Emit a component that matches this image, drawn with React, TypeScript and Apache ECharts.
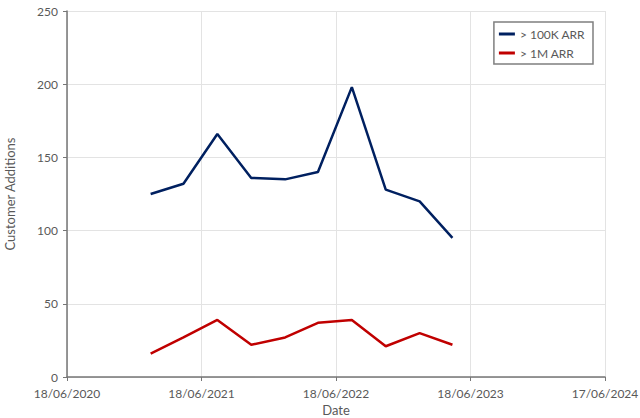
import React, { useEffect, useRef } from "react";
import * as echarts from "echarts";

const quarterEnds = [
  "2021-01-31", "2021-04-30", "2021-07-31", "2021-10-31", "2022-01-31",
  "2022-04-30", "2022-07-31", "2022-10-31", "2023-01-31", "2023-04-30",
];
const over100K = [125, 132, 166, 136, 135, 140, 198, 128, 120, 95];
const over1M = [16, 27, 39, 22, 27, 37, 39, 21, 30, 22];
const seriesNames = ["> 100K ARR", "> 1M ARR"];
const axisStart = "2020-06-18";
const axisDays = 1460;
const tickDays = 365;

const DAY = 86400000;
const toUTC = (s: string) => {
  const [y, m, d] = s.split("-").map(Number);
  return Date.UTC(y, m - 1, d);
};
const base = toUTC(axisStart);
const toDays = (s: string) => Math.round((toUTC(s) - base) / DAY);
const fmt = (days: number) => {
  const dt = new Date(base + days * DAY);
  const dd = String(dt.getUTCDate()).padStart(2, "0");
  const mm = String(dt.getUTCMonth() + 1).padStart(2, "0");
  return `${dd}/${mm}/${dt.getUTCFullYear()}`;
};

const FONT = "Lato, 'Open Sans', sans-serif";

export default function App() {
  const ref = useRef<HTMLDivElement>(null);
  useEffect(() => {
    if (!ref.current) return;
    const chart = echarts.init(ref.current, undefined, { renderer: "svg" });
    const mk = (vals: number[]) => quarterEnds.map((d, i) => [toDays(d), vals[i]]);
    chart.setOption({
      animation: false,
      textStyle: { fontFamily: FONT },
      grid: { left: 67, right: 35, top: 11, bottom: 41, outerBoundsMode: "none", containLabel: false },
      legend: {
        orient: "vertical",
        right: 47,
        top: 22,
        padding: [6, 8, 5, 5],
        itemGap: 7,
        itemWidth: 16,
        itemHeight: 3,
        icon: "rect",
        borderColor: "#7f7f7f",
        borderWidth: 1.5,
        textStyle: { color: "#595959", fontSize: 12, fontFamily: FONT },
        data: seriesNames,
      },
      xAxis: {
        type: "value",
        min: 0,
        max: axisDays,
        interval: tickDays,
        name: "Date",
        nameLocation: "middle",
        nameGap: 25,
        nameTextStyle: { color: "#595959", fontSize: 13, fontFamily: FONT },
        axisLine: { lineStyle: { color: "#767676", width: 1.5 } },
        axisTick: { show: true, length: 4, lineStyle: { color: "#767676" } },
        axisLabel: {
          color: "#595959",
          fontSize: 12,
          margin: 10,
          formatter: (v: number) => fmt(v),
        },
        splitLine: { show: true, lineStyle: { color: "#e3e3e3" } },
      },
      yAxis: {
        type: "value",
        min: 0,
        max: 250,
        interval: 50,
        name: "Customer Additions",
        nameLocation: "middle",
        nameGap: 51,
        nameTextStyle: { color: "#595959", fontSize: 13, fontFamily: FONT },
        axisLine: { show: true, lineStyle: { color: "#767676", width: 1.5 } },
        axisTick: { show: true, length: 4, lineStyle: { color: "#767676" } },
        axisLabel: { color: "#595959", fontSize: 12, margin: 9 },
        splitLine: { show: true, lineStyle: { color: "#e3e3e3" } },
      },
      series: [
        {
          name: seriesNames[0],
          type: "line",
          data: mk(over100K),
          showSymbol: false,
          symbol: "none",
          lineStyle: { color: "#002060", width: 2.5 },
          itemStyle: { color: "#002060" },
        },
        {
          name: seriesNames[1],
          type: "line",
          data: mk(over1M),
          showSymbol: false,
          symbol: "none",
          lineStyle: { color: "#C00000", width: 2.5 },
          itemStyle: { color: "#C00000" },
        },
      ],
    });
    return () => chart.dispose();
  }, []);
  return <div ref={ref} style={{ width: 640, height: 418, position: "absolute", left: 0, top: 0 }} />;
}
